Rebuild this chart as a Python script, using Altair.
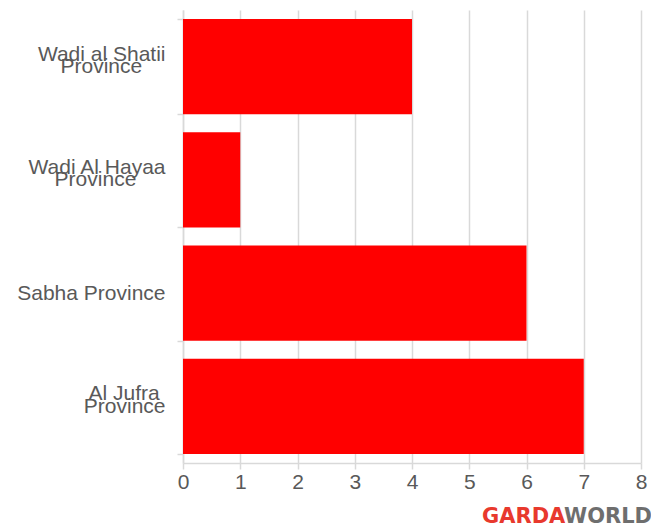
import altair as alt
import pandas as pd

NB = "\u00a0"
ZW = "\u200b"
categories = [
    "Wadi al Shatii\n\nProvince" + NB * 4 + ZW,
    "Wadi Al Hayaa\n\nProvince" + NB * 5 + ZW,
    "Sabha Province",
    "Al Jufra" + NB + ZW + "\n\nProvince",
]
values = [4, 1, 6, 7]

df = pd.DataFrame({"cat": categories, "val": values})

LABEL = "#595959"
GRID = "#d9d9d9"

# two-line labels are [line1, "", line2]; one-line labels become ["", line]
# with a half line height, so every label block is centred on its band.
label_expr = ("split(indexof(datum.label, '\\n') >= 0 ? datum.label : "
              "'\\n' + datum.label, '\\n')")

bars = alt.Chart(df).mark_bar(color="#ff0000").encode(
    x=alt.X("val:Q", scale=alt.Scale(domain=[0, 8], nice=False),
            axis=alt.Axis(title=None, values=list(range(0, 9)), grid=True, gridColor=GRID,
                          domainColor=GRID, tickColor=GRID, tickSize=6, labelFontSize=21,
                          labelColor=LABEL, labelFont="Liberation Sans", labelPadding=2,
                          labelFlush=False,
                          domainWidth=1.5, gridWidth=1.5, tickWidth=1.5)),
    y=alt.Y("cat:N", sort=categories,
            scale=alt.Scale(paddingInner=0.16, paddingOuter=0.08),
            axis=alt.Axis(title=None, tickBand="extent", grid=False, domainColor=GRID,
                          tickColor=GRID, tickSize=6, labelFontSize=21, labelColor=LABEL,
                          labelFont="Liberation Sans", labelAlign="right",
                          labelPadding=12, labelLineHeight=12.5, labelOffset=-12.5,
                          labelExpr=label_expr, labelLimit=300,
                          domainWidth=1.5, tickWidth=1.5)),
)

garda = alt.Chart(pd.DataFrame({"t": ["GARDA"]})).mark_text(
    align="left", baseline="alphabetic", font="DejaVu Sans", fontWeight="bold",
    fontSize=21, color="#e8392d"
).encode(text="t:N", x=alt.value(299), y=alt.value(513))

world = alt.Chart(pd.DataFrame({"t": ["WORLD"]})).mark_text(
    align="right", baseline="alphabetic", font="DejaVu Sans", fontWeight="bold",
    fontSize=21, color="#6e6e6e"
).encode(text="t:N", x=alt.value(469), y=alt.value(513))

chart = alt.layer(bars, garda, world).properties(
    width=458, height=453,
    autosize=alt.AutoSizeParams(type="none"),
    padding={"left": 175, "top": 2, "right": 10, "bottom": 62},
).configure_view(stroke=None)

chart.save("out.html", embed_options={"renderer": "svg", "actions": False})
